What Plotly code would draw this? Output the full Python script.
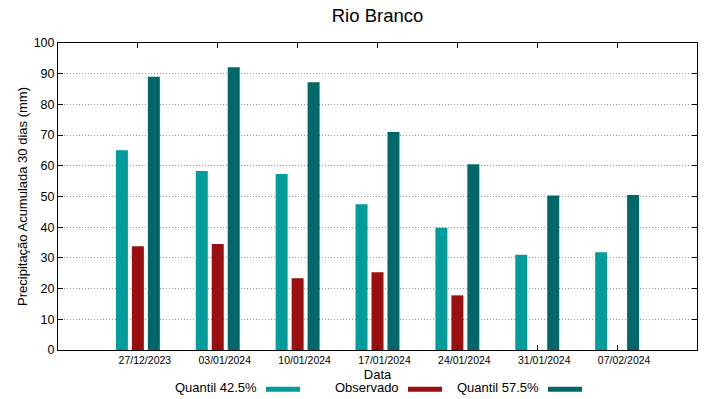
import plotly.graph_objects as go

dates = ["27/12/2023", "03/01/2024", "10/01/2024", "17/01/2024",
         "24/01/2024", "31/01/2024", "07/02/2024"]
q425 = [65.1, 58.3, 57.3, 47.5, 39.8, 31.0, 31.8]
observado = [33.8, 34.5, 23.4, 25.3, 17.8, None, None]
q575 = [89.0, 92.1, 87.2, 71.0, 60.5, 50.3, 50.5]

series_names = ["Quantil 42.5%", "Observado", "Quantil 57.5%"]
series_colors = ["#009b9b", "#9a0f0f", "#006868"]
series_values = [q425, observado, q575]
y_ticks = list(range(0, 101, 10))

FONT = "Liberation Sans, Arial, sans-serif"

fig = go.Figure()
for name, color, vals in zip(series_names, series_colors, series_values):
    fig.add_trace(go.Bar(
        x=list(range(len(dates))), y=vals, name=name,
        marker=dict(color=color, line=dict(width=0)),
        showlegend=False,
    ))

fig.update_layout(
    width=719, height=399,
    margin=dict(l=58, r=22, t=43, b=49, autoexpand=False),
    paper_bgcolor="white", plot_bgcolor="white",
    barmode="group", bargap=0.4, bargroupgap=0.25,
    font=dict(family=FONT, color="#000000"),
    title=dict(text="Rio Branco", x=0.5, xref="paper", xanchor="center",
               y=1 - 16 / 399, yref="container", yanchor="middle",
               font=dict(size=18.5, family=FONT, color="#000")),
)

fig.update_xaxes(
    range=[-1, 7], automargin=False,
    tickmode="array", tickvals=list(range(len(dates))), ticktext=dates,
    tickfont=dict(size=10.5, family=FONT),
    ticklabelshift=7,
    ticks="inside", ticklen=5, tickcolor="#000",
    showline=True, linecolor="#000", linewidth=1, mirror="ticks",
    showgrid=False, zeroline=False,
    title=dict(text="Data", font=dict(size=13, family=FONT), standoff=5),
)
fig.update_yaxes(
    range=[0, 100], automargin=False,
    tickmode="array", tickvals=y_ticks,
    tickfont=dict(size=12.5, family=FONT),
    ticks="inside", ticklen=5, tickcolor="#000",
    showline=True, linecolor="#000", linewidth=1, mirror="ticks",
    showgrid=True, gridcolor="#9a9a9a", griddash="1px,2px", gridwidth=1,
    zeroline=False,
    title=dict(text="Precipitação Acumulada 30 dias (mm)",
               font=dict(size=13, family=FONT), standoff=3),
)

# gnuplot-style legend: label text followed by a colour swatch
legend_text_right = [259, 401, 541]
legend_y = 387.5
for name, color, xr in zip(series_names, series_colors, legend_text_right):
    fig.add_annotation(
        text=name, xref="paper", yref="paper",
        x=(xr - 58) / 639, y=(350 - legend_y) / 307,
        xanchor="right", yanchor="middle", showarrow=False,
        font=dict(size=13, family=FONT, color="#000"),
    )
    fig.add_shape(
        type="rect", xref="paper", yref="paper",
        x0=(xr + 7 - 58) / 639, x1=(xr + 41 - 58) / 639,
        y0=(350 - 391.7) / 307, y1=(350 - 386.7) / 307,
        fillcolor=color, line=dict(width=0),
    )

fig.write_html(
    "out.html",
    config={"displayModeBar": False},
    post_script="document.body.style.margin='0';document.body.style.overflow='hidden';",
)
